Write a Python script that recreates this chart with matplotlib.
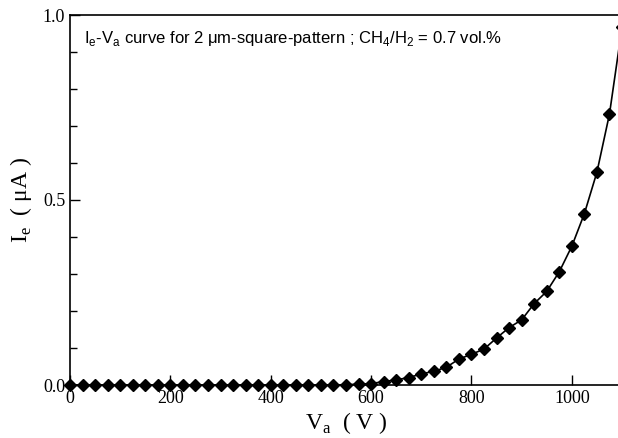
import numpy as np
import matplotlib
matplotlib.use("Agg")
from matplotlib import pyplot as plt
from matplotlib.ticker import MultipleLocator

# .. Ie-Va curve, 2 um square pattern

va = np.arange(0, 1101, 25)
ie = [0.0, 0.0, 0.0, 0.0, 0.0, 0.0, 0.0, 0.0, 0.0, 0.0,
      0.0, 0.0, 0.0, 0.0, 0.0, 0.0, 0.0, 0.0, 0.0, 0.0,
      0.0, 0.0, 0.001, 0.002, 0.004, 0.009, 0.014, 0.020, 0.030, 0.037,
      0.048, 0.070, 0.083, 0.097, 0.127, 0.155, 0.176, 0.220, 0.253, 0.306,
      0.375, 0.463, 0.575, 0.732, 0.967]
xticks = [0, 200, 400, 600, 800, 1000]
yticks = [0.0, 0.5, 1.0]
note = r"I$_\mathregular{e}$-V$_\mathregular{a}$ curve for 2 $\mathregular{\mu}$m-square-pattern ; CH$_\mathregular{4}$/H$_\mathregular{2}$ = 0.7 vol.%"

# 2. Figure ..........................................................
plt.rcParams['font.family'] = ['Liberation Serif', 'DejaVu Serif']
plt.rcParams['mathtext.fontset'] = 'custom'
plt.rcParams['mathtext.rm'] = 'Liberation Serif'

fig = plt.figure(figsize=(6.18, 4.38), dpi=100)
# right spine falls just outside the picture, as in the scan
ax = fig.add_axes([70/618, 1-385/438, 552/618, 370/438])

ax.plot(va, ie, color='k', lw=1.2, marker='D', ms=6.5, mfc='k', mec='k',
        clip_on=False)

ax.set_xlim(0, 1100)
ax.set_ylim(0, 1.0)
ax.set_xticks(xticks)
ax.set_yticks(yticks)
ax.set_yticklabels([f"{t:.1f}" for t in yticks])
ax.yaxis.set_minor_locator(MultipleLocator(0.1))
ax.tick_params(which='both', direction='in', labelsize=13, width=1)
ax.tick_params(which='major', length=7)
ax.tick_params(which='minor', length=5)
for s in ax.spines.values():
    s.set_linewidth(1.2)

ax.set_xlabel(r"V$_\mathregular{a}$  ( V )", fontsize=17, labelpad=2)
ax.set_ylabel(r"I$_\mathregular{e}$  ( $\mathregular{\mu}$A )", fontsize=17, labelpad=6)

ax.text(0.025, 0.962, note, transform=ax.transAxes, ha='left', va='top',
        fontsize=12, family=['Liberation Sans', 'DejaVu Sans'])

fig.savefig("out.png", dpi=100)
